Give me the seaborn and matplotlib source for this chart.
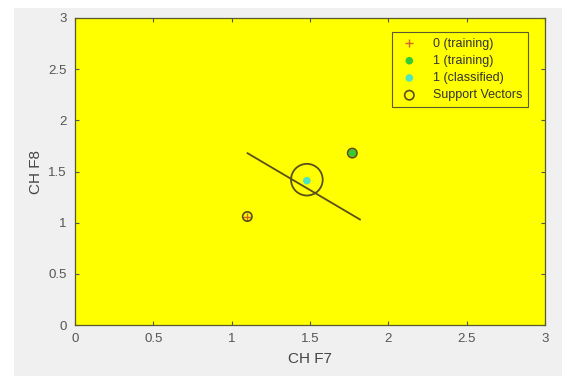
import matplotlib
matplotlib.use("Agg")
import matplotlib.pyplot as plt
import seaborn as sns
import pandas as pd
from matplotlib.patches import Rectangle

# Data
train0_x = [1.10]
train0_y = [1.06]
train1_x = [1.77]
train1_y = [1.68]
class1_x = [1.48]
class1_y = [1.41]
sv_x = [1.10, 1.77]
sv_y = [1.06, 1.68]
big_sv_x = [1.48]
big_sv_y = [1.42]
line_x = [1.10, 1.82]
line_y = [1.68, 1.03]
ticks = [0, 0.5, 1, 1.5, 2, 2.5, 3]
tick_labels = ["0", "0.5", "1", "1.5", "2", "2.5", "3"]

sns.set_style("white")
plt.rcParams['font.family'] = ['Liberation Sans', 'DejaVu Sans']

fig = plt.figure(figsize=(5.62, 3.76), dpi=100)
fig.patch.set_facecolor('#f0f0f0')
fig.patches.append(Rectangle((0, 0), 14/562, 1, transform=fig.transFigure,
                             facecolor='white', edgecolor='none', zorder=0))
fig.patches.append(Rectangle((0, 1 - 8/376), 1, 8/376, transform=fig.transFigure,
                             facecolor='white', edgecolor='none', zorder=0))
ax = fig.add_axes([75/562, 1 - 325/376, (545-75)/562, (325-18)/376])
ax.set_facecolor('#ffff00')

edge = '#5a4f1c'
sns.lineplot(x=line_x, y=line_y, ax=ax, color='#5a4f1c', linewidth=1.3,
             estimator=None, sort=False, legend=False)
sns.scatterplot(x=train0_x, y=train0_y, ax=ax, marker='+', color='#d9622b',
                s=40, linewidth=1.0, label='0 (training)', zorder=4)
sns.scatterplot(x=train1_x, y=train1_y, ax=ax, marker='o', color='#33cc33',
                s=30, edgecolor='none', label='1 (training)', zorder=4)
sns.scatterplot(x=class1_x, y=class1_y, ax=ax, marker='o', color='#4de6c0',
                s=30, edgecolor='none', label='1 (classified)', zorder=4)
sns.scatterplot(x=sv_x, y=sv_y, ax=ax, marker='o', facecolor='none',
                edgecolor=edge, s=45, linewidth=1.2, label='Support Vectors', zorder=5)
sns.scatterplot(x=big_sv_x, y=big_sv_y, ax=ax, marker='o', facecolor='none',
                edgecolor=edge, s=520, linewidth=1.3, zorder=5, legend=False)

ax.set_xlim(0, 3)
ax.set_ylim(0, 3)
ax.set_xticks(ticks)
ax.set_xticklabels(tick_labels)
ax.set_yticks(ticks)
ax.set_yticklabels(tick_labels)
ax.tick_params(axis='both', which='both', direction='in', length=3, width=0.8,
               colors='#555555', labelsize=9.5, labelcolor='#555555',
               top=True, right=True, bottom=True, left=True, pad=6)
for s in ax.spines.values():
    s.set_color('#5a5a30')
    s.set_linewidth(0.9)
ax.set_xlabel('CH F7', fontsize=11, color='#444444', labelpad=5)
ax.set_ylabel('CH F8', fontsize=11, color='#444444', labelpad=4)

leg = ax.legend(loc='upper right', bbox_to_anchor=(0.964, 0.954), fontsize=9,
                frameon=True, fancybox=False, edgecolor='#5a5a30',
                facecolor='#ffff00', framealpha=1, handletextpad=1.0,
                borderpad=0.45, labelspacing=0.42, handlelength=1.8,
                borderaxespad=0)
leg.get_frame().set_linewidth(0.8)
for t in leg.get_texts():
    t.set_color('#333333')

fig.savefig('out.png', dpi=100, facecolor=fig.get_facecolor())
